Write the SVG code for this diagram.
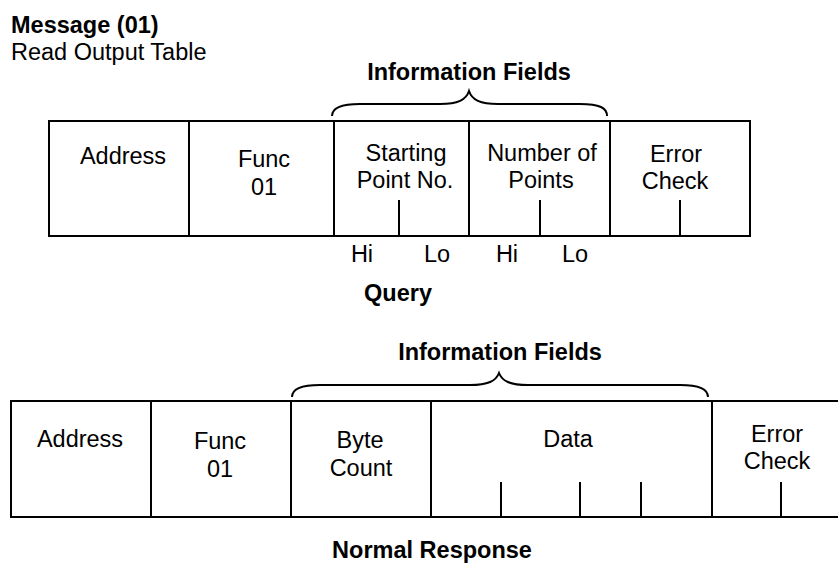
<svg xmlns="http://www.w3.org/2000/svg" width="838" height="566" viewBox="0 0 838 566">
<style>
text{font-family:"Liberation Sans",Arial,sans-serif;font-size:23.5px;fill:#000}
.b{font-weight:bold}
.c{text-anchor:middle}
.ln{stroke:#000;stroke-width:2;fill:none}
</style>
<rect width="838" height="566" fill="#fff"/>
<g id="title">
<text class="b" x="11" y="33">Message (01)</text>
<text x="11" y="60">Read Output Table</text>
</g>
<g id="query">
<text class="b c" x="469" y="80">Information Fields</text>
<path class="ln" d="M332,116 C332,108 340,104 360,104 L440,104 C458,104 466,100 469,91 C472,100 480,104 498,104 L580,104 C600,104 607,108 607,116"/>
<rect class="ln" x="49" y="121" width="701" height="115"/>
<g id="q-address"><text class="c" x="123" y="164">Address</text></g>
<g id="q-func"><line class="ln" x1="189" y1="121" x2="189" y2="236"/><text class="c" x="264" y="167">Func</text><text class="c" x="264" y="195">01</text></g>
<g id="q-start"><line class="ln" x1="334" y1="121" x2="334" y2="236"/><text class="c" x="406" y="161">Starting</text><text class="c" x="405" y="188">Point No.</text><line class="ln" x1="399" y1="200" x2="399" y2="236"/></g>
<g id="q-num"><line class="ln" x1="469" y1="121" x2="469" y2="236"/><text class="c" x="542" y="161">Number of</text><text class="c" x="541" y="188">Points</text><line class="ln" x1="540" y1="200" x2="540" y2="236"/></g>
<g id="q-err"><line class="ln" x1="610" y1="121" x2="610" y2="236"/><text class="c" x="676" y="162">Error</text><text class="c" x="675" y="189">Check</text><line class="ln" x1="680" y1="200" x2="680" y2="236"/></g>
<text class="c" x="362" y="262">Hi</text>
<text class="c" x="437" y="262">Lo</text>
<text class="c" x="507" y="262">Hi</text>
<text class="c" x="575" y="262">Lo</text>
<text class="b c" x="398" y="301">Query</text>
</g>
<g id="response">
<text class="b c" x="500" y="360">Information Fields</text>
<path class="ln" d="M292,397 C292,389 300,385 320,385 L470,385 C488,385 496,381 499,373 C502,381 510,385 528,385 L680,385 C700,385 708,389 708,397"/>
<path class="ln" d="M838,401 L11,401 L11,517 L838,517"/>
<g id="r-address"><text class="c" x="80" y="447">Address</text></g>
<g id="r-func"><line class="ln" x1="151" y1="401" x2="151" y2="517"/><text class="c" x="220" y="449">Func</text><text class="c" x="220" y="477">01</text></g>
<g id="r-byte"><line class="ln" x1="291" y1="401" x2="291" y2="517"/><text class="c" x="360" y="448">Byte</text><text class="c" x="361" y="476">Count</text></g>
<g id="r-data"><line class="ln" x1="431" y1="401" x2="431" y2="517"/><text class="c" x="568" y="447">Data</text><line class="ln" x1="501" y1="482" x2="501" y2="517"/><line class="ln" x1="580" y1="482" x2="580" y2="517"/><line class="ln" x1="641" y1="482" x2="641" y2="517"/></g>
<g id="r-err"><line class="ln" x1="712" y1="401" x2="712" y2="517"/><text class="c" x="777" y="442">Error</text><text class="c" x="777" y="469">Check</text><line class="ln" x1="781" y1="482" x2="781" y2="517"/></g>
<text class="b c" x="432" y="558">Normal Response</text>
</g>
</svg>
